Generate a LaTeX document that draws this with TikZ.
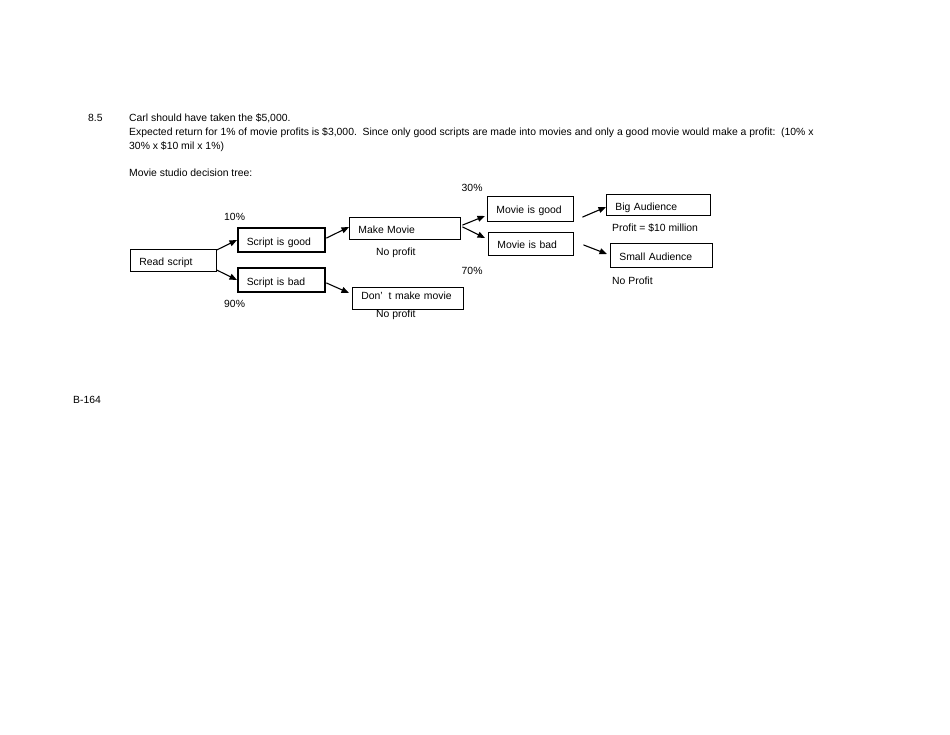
\documentclass[tikz,border=0pt]{standalone}
\usepackage{fontspec}
\setmainfont{Liberation Sans}
\usetikzlibrary{arrows.meta}
\begin{document}
\begin{tikzpicture}[x=1pt, y=-1pt, line cap=round,
  every node/.style={font=\fontsize{10.4}{12.5}\selectfont, inner sep=0pt},
  >={Triangle[length=7.5pt,width=6pt]},
  box/.style={draw, line width=0.7pt, anchor=west, align=left, inner xsep=9pt,
    text height=11pt, text depth=0pt},
  heavybox/.style={box, line width=1.5pt},
  txt/.style={anchor=base west},
  link/.style={->, line width=1.1pt}]

\useasboundingbox (0,0) rectangle (950,734);

% heading
\node[txt] (num) at (88,121) {8.5};
\node[txt] (ans) at (129,121) {Carl should have taken the \$5,000.};
\node[txt] (why) at (129,135) {Expected return for 1\% of movie profits is \$3,000.\ \ Since only good scripts are made into movies and only a good movie would make a profit:\ \ (10\% x};
\node[txt] (why2) at (129,149) {30\% x \$10 mil x 1\%)};
\node[txt] (title) at (129,176) {Movie studio decision tree:};
\node[txt] (page) at (73,403) {B-164};

% the tree
\node[box, text width=68pt, minimum height=22pt] (read) at (130,260) {Read script};
\node[heavybox, text width=69pt, minimum height=24pt, text height=10pt] (good) at (237,240) {Script is good};
\node[heavybox, text width=69pt, minimum height=24pt, text height=10pt] (bad) at (237,280) {Script is bad};
\node[box, text width=93pt, minimum height=22pt] (make) at (349,228) {Make Movie};
\node[box, text width=93pt, minimum height=22pt, text height=7.6pt, text depth=5.2pt] (dont) at (352,298) {Don’\hspace{6pt}t make movie};
\node[box, text width=68pt, minimum height=25pt, text height=9pt] (mgood) at (487,208.5) {Movie is good};
\node[box, text width=67pt, minimum height=23pt, text height=10pt] (mbad) at (488,243.5) {Movie is bad};
\node[box, text width=86pt, minimum height=21pt] (big) at (606,204.5) {Big Audience};
\node[box, text width=84pt, minimum height=24pt] (small) at (610,255) {Small Audience};

% odds and outcomes
\node[txt] (p10) at (224,220) {10\%};
\node[txt] (p90) at (224,307) {90\%};
\node[txt] (p30) at (461.5,191.5) {30\%};
\node[txt] (p70) at (461.5,274) {70\%};
\node[txt] (nomake) at (376,255.5) {No profit};
\node[txt] (nodont) at (376,317) {No profit};
\node[txt] (gain) at (612,231) {Profit = \$10 million};
\node[txt] (nogain) at (612,284.5) {No Profit};

% arrows
\draw[link] ([yshift=10pt]read.east) -- (good.west);
\draw[link] ([yshift=-10pt]read.east) -- (bad.west);
\draw[link] ([xshift=1pt,yshift=2pt]good.east) -- ([yshift=1pt]make.west);
\draw[link] ([xshift=1pt,yshift=-3pt]bad.east) -- ([xshift=-3pt,yshift=5pt]dont.west);
\draw[link] ([xshift=2pt,yshift=3pt]make.east) -- ([xshift=-2pt,yshift=-7.5pt]mgood.west);
\draw[link] ([xshift=2pt,yshift=1pt]make.east) -- ([xshift=-3pt,yshift=5.5pt]mbad.west);
\draw[link] ([xshift=9pt,yshift=-8.5pt]mgood.east) -- ([yshift=-2.5pt]big.west);
\draw[link] ([xshift=10pt,yshift=-1.5pt]mbad.east) -- ([xshift=-3pt,yshift=1pt]small.west);

\end{tikzpicture}
\end{document}
